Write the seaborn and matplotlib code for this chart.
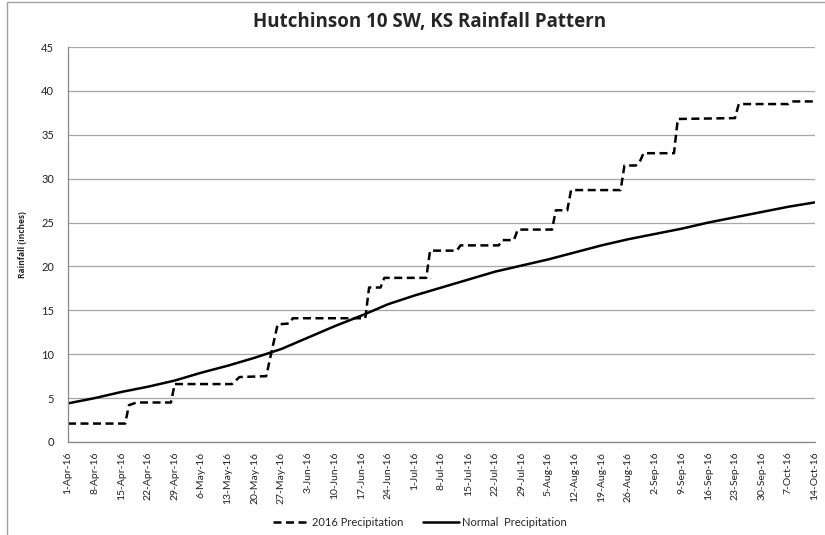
import matplotlib
matplotlib.use("Agg")
import matplotlib.pyplot as plt
from matplotlib.patches import Rectangle
import seaborn as sns
import pandas as pd

# ---- data ----
rain_dates = ["2016-04-01", "2016-04-16", "2016-04-17", "2016-04-19", "2016-04-28", "2016-04-29",
              "2016-05-14", "2016-05-16", "2016-05-23", "2016-05-26", "2016-05-29", "2016-05-30",
              "2016-06-18", "2016-06-19", "2016-06-22", "2016-06-23", "2016-07-04", "2016-07-05",
              "2016-07-12", "2016-07-13", "2016-07-23", "2016-07-24", "2016-07-27", "2016-07-28",
              "2016-08-06", "2016-08-07", "2016-08-10", "2016-08-11", "2016-08-24", "2016-08-25",
              "2016-08-28", "2016-08-29", "2016-08-30", "2016-09-07", "2016-09-08", "2016-09-23",
              "2016-09-24", "2016-10-07", "2016-10-08", "2016-10-14"]
rain_values = [2.1, 2.1, 4.2, 4.5, 4.5, 6.6,
               6.6, 7.4, 7.5, 13.4, 13.5, 14.1,
               14.1, 17.6, 17.6, 18.7, 18.7, 21.8,
               21.8, 22.4, 22.4, 23.0, 23.0, 24.2,
               24.2, 26.4, 26.4, 28.7, 28.7, 31.5,
               31.5, 31.9, 32.9, 32.9, 36.8, 36.9,
               38.5, 38.5, 38.8, 38.8]

normal_dates = pd.date_range("2016-04-01", "2016-10-14", freq="7D").strftime("%Y-%m-%d").tolist()
normal_values = [4.4, 5.0, 5.7, 6.3, 7.0, 7.9, 8.7, 9.6, 10.6, 11.9,
                 13.2, 14.4, 15.7, 16.7, 17.6, 18.5, 19.4, 20.1, 20.8, 21.6,
                 22.4, 23.1, 23.7, 24.3, 25.0, 25.6, 26.2, 26.8, 27.3]

title = "Hutchinson 10 SW, KS Rainfall Pattern"
y_label = "Rainfall (inches)"
series_labels = ["2016 Precipitation", "Normal  Precipitation"]

# ---- figure ----
sns.set_style("white")
plt.rcParams['font.family'] = ['Lato', 'DejaVu Sans']
bold_family = ['Open Sans', 'DejaVu Sans']

fig = plt.figure(figsize=(8.25, 5.35), dpi=100)
ax = fig.add_axes([68/825, 1-442/535, (815-68)/825, (442-47)/535])

rain_df = pd.DataFrame({"date": pd.to_datetime(rain_dates), "value": rain_values})
norm_df = pd.DataFrame({"date": pd.to_datetime(normal_dates), "value": normal_values})

sns.lineplot(data=rain_df, x="date", y="value", ax=ax, color="black", linewidth=1.8,
             linestyle=(0, (3.2, 1.8)), label=series_labels[0])
sns.lineplot(data=norm_df, x="date", y="value", ax=ax, color="black", linewidth=1.8,
             label=series_labels[1])

ax.set_ylim(0, 45)
ax.set_yticks(range(0, 46, 5))
ax.set_xlim(pd.Timestamp("2016-04-01"), pd.Timestamp("2016-10-14"))
ticks = pd.date_range("2016-04-01", "2016-10-14", freq="7D")
ax.set_xticks(ticks)
ax.set_xticklabels([f"{d.day}-{d.strftime('%b')}-16" for d in ticks], rotation=90,
                   fontsize=7.5, color="#222222")
for lab in ax.get_yticklabels():
    lab.set_fontsize(8)
    lab.set_color("#222222")

ax.grid(axis="y", color="#a6a6a6", linewidth=0.9)
ax.grid(axis="x", visible=False)
ax.set_axisbelow(True)
for s in ["top", "right"]:
    ax.spines[s].set_visible(False)
for s in ["left", "bottom"]:
    ax.spines[s].set_color("#888888")
    ax.spines[s].set_linewidth(0.9)
ax.tick_params(axis="x", direction="out", length=4, width=0.8, color="#888888", pad=3)
ax.tick_params(axis="y", direction="out", length=4, width=0.8, color="#888888", pad=6)

ax.set_xlabel("")
ax.set_ylabel(y_label, fontsize=6, fontweight="bold", family=bold_family, labelpad=10)

fig.text(430/825, 1-22/535, title, ha="center", va="center", fontsize=13.5,
         fontweight="bold", family=bold_family)

leg = ax.legend(loc="center", bbox_to_anchor=(420/825, 1-522/535), bbox_transform=fig.transFigure,
                ncol=2, frameon=False, fontsize=8, handlelength=3.2, columnspacing=1.8,
                handletextpad=0.3)

fig.patches.append(Rectangle((7/825, -0.05), 1.2, 1-2/535+0.05, transform=fig.transFigure,
                             fill=False, edgecolor="#a0a0a0", linewidth=1.0))

fig.savefig("out.png", dpi=100)
